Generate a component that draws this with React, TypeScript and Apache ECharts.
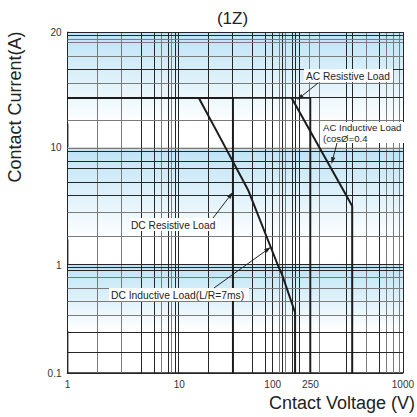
import React, { useEffect, useRef } from "react";
import * as echarts from "echarts";

// Scale of the original (hand-ruled, non-uniform) graph sheet:
// [axis value, distance from the plot origin along the axis]
const X_PAPER: [number, number][] = [
  [1, 0], [2, 29.5], [3, 54.5], [4, 75], [5, 88.5], [6, 95], [7, 100], [8, 104], [9, 108], [10, 112.5],
  [20, 141.5], [30, 166.5], [40, 186.5], [60, 200], [100, 206.5], [110, 211.5], [120, 216], [130, 220],
  [140, 224.5], [160, 229.5], [200, 234.5], [250, 244.5], [300, 254.5], [400, 279.5], [450, 286.5],
  [500, 299.5], [600, 312.5], [700, 319.5], [800, 327.5], [900, 332.5], [1000, 337.5],
];
const Y_PAPER: [number, number][] = [
  [0.1, 0], [0.2, 19], [0.3, 42], [0.4, 58], [0.5, 73], [0.6, 85], [0.7, 95], [0.8, 102], [0.9, 106], [1, 108],
  [2, 138], [3, 160], [4, 176], [5, 191], [6, 203], [7, 213], [8, 220], [9, 224], [10, 226],
  [11, 252], [12, 275], [13, 291], [14, 305], [15, 318], [16, 330], [17, 335], [18, 338], [20, 341],
];
const X_GRAY = [2, 3, 6, 8, 110, 130, 250, 300, 500, 700, 800, 900];
const Y_GRAY = [17, 16, 15, 13, 11, 10, 9, 3, 2, 0.7, 0.6, 0.5, 0.4];

// Tick labels
const xTickLabels = [1, 10, 100, 250, 1000];
const yTickLabels = [0.1, 1, 10, 20];

// Blue shaded bands [from, to] in current (A)
const bands: [number, number][] = [[20, 10.9], [10, 1.8], [1, 0.3]];

// Load curves: voltage (V) and current (A)
const dcResistiveV = [1, 30, 30];
const dcResistiveI = [12, 12, 0.1];
const acResistiveV = [1, 250, 250];
const acResistiveI = [12, 12, 0.1];
const dcInductiveV = [16, 23, 37.5, 112, 119, 158, 158];
const dcInductiveI = [12, 10.6, 4.4, 0.9, 0.76, 0.415, 0.1];
const acInductiveV = [144, 450, 450];
const acInductiveI = [12, 3.4, 0.1];

const FONT = "'Liberation Sans', Arial, Helvetica, sans-serif";
const PLOT = { left: 67.5, top: 32, width: 337.5, height: 341 };

function paper(table: [number, number][], v: number): number {
  if (v <= table[0][0]) return table[0][1];
  for (let i = 1; i < table.length; i++) {
    const [v0, p0] = table[i - 1];
    const [v1, p1] = table[i];
    if (v <= v1) return p0 + ((p1 - p0) * Math.log(v / v0)) / Math.log(v1 / v0);
  }
  return table[table.length - 1][1];
}
const toX = (v: number) => paper(X_PAPER, v) / PLOT.width;
const toY = (v: number) => paper(Y_PAPER, v) / PLOT.height;

function pts(vs: number[], is: number[]) {
  return vs.map((v, k) => [toX(v), toY(is[k])]);
}

function arrow(x1: number, y1: number, x2: number, y2: number) {
  const dx = x2 - x1, dy = y2 - y1;
  const len = Math.hypot(dx, dy);
  const ux = dx / len, uy = dy / len;
  const hl = 7, hw = 2.2;
  const bx = x2 - ux * hl, by = y2 - uy * hl;
  return [
    { type: "line", shape: { x1, y1, x2: bx, y2: by }, style: { stroke: "#222", lineWidth: 1 }, z: 20 },
    {
      type: "polygon",
      shape: { points: [[x2, y2], [bx - uy * hw, by + ux * hw], [bx + uy * hw, by - ux * hw]] },
      style: { fill: "#222" },
      z: 20,
    },
  ];
}

function label(x: number, y: number, w: number, h: number, lines: string[], size: number) {
  const els: any[] = [{ type: "rect", shape: { x, y, width: w, height: h }, style: { fill: "#fff" }, z: 19 }];
  const lh = h / lines.length;
  lines.forEach((t, k) => {
    els.push({
      type: "text",
      x: x + 2,
      y: y + lh * (k + 0.5) + 0.5,
      style: { text: t, fontSize: size, fontFamily: FONT, fill: "#222", align: "left", verticalAlign: "middle" },
      z: 21,
    });
  });
  return els;
}

export default function App() {
  const ref = useRef<HTMLDivElement>(null);
  useEffect(() => {
    if (!ref.current) return;
    const chart = echarts.init(ref.current, undefined, { renderer: "svg" });
    const curveStyle = { color: "#1c1c1c", width: 2 };
    const gridLines: any[] = [];
    X_PAPER.forEach(([v]) =>
      gridLines.push({ xAxis: toX(v), lineStyle: { color: X_GRAY.includes(v) ? "#7a7a7a" : "#262626", width: 1, type: "solid" } })
    );
    Y_PAPER.forEach(([v]) =>
      gridLines.push({ yAxis: toY(v), lineStyle: { color: Y_GRAY.includes(v) ? "#7a7a7a" : "#262626", width: 1, type: "solid" } })
    );
    const bandData = bands.map(([a, b]) => [
      {
        yAxis: toY(a),
        itemStyle: {
          color: {
            type: "linear", x: 0, y: 0, x2: 0, y2: 1,
            colorStops: [
              { offset: 0, color: "#bce3f6" },
              { offset: 1, color: "#ffffff" },
            ],
          },
        },
      },
      { yAxis: toY(b) },
    ]);
    const fmt = (labels: number[], f: (v: number) => number) => (u: number) => {
      const hit = labels.find((l) => Math.abs(f(l) - u) < 1e-6);
      return hit === undefined ? "" : String(hit);
    };
    chart.setOption({
      animation: false,
      backgroundColor: "#ffffff",
      grid: { left: PLOT.left, top: PLOT.top, width: PLOT.width, height: PLOT.height, containLabel: false },
      xAxis: {
        type: "value",
        min: 0,
        max: 1,
        splitLine: { show: false },
        axisTick: { show: false },
        axisLine: { show: true, lineStyle: { color: "#222", width: 1.5 } },
        axisLabel: {
          customValues: xTickLabels.map(toX),
          formatter: fmt(xTickLabels, toX),
          fontSize: 10,
          fontFamily: FONT,
          color: "#333",
          margin: 6,
          showMinLabel: true,
          showMaxLabel: true,
        },
      },
      yAxis: {
        type: "value",
        min: 0,
        max: 1,
        splitLine: { show: false },
        axisTick: { show: false },
        axisLine: { show: true, lineStyle: { color: "#888", width: 1.5 } },
        axisLabel: {
          customValues: yTickLabels.map(toY),
          formatter: fmt(yTickLabels, toY),
          fontSize: 10,
          fontFamily: FONT,
          color: "#333",
          margin: 6,
          showMinLabel: true,
          showMaxLabel: true,
        },
      },
      series: [
        {
          name: "bands",
          type: "line",
          data: [],
          z: 1,
          silent: true,
          markArea: { silent: true, data: bandData },
        },
        {
          name: "paper",
          type: "line",
          data: [],
          z: 2,
          silent: true,
          markLine: { silent: true, symbol: "none", label: { show: false }, animation: false, data: gridLines },
        },
        { name: "DC Resistive Load", type: "line", data: pts(dcResistiveV, dcResistiveI), showSymbol: false, symbol: "none", lineStyle: curveStyle, z: 5 },
        { name: "AC Resistive Load", type: "line", data: pts(acResistiveV, acResistiveI), showSymbol: false, symbol: "none", lineStyle: { color: "#1c1c1c", width: 1.6 }, z: 5 },
        { name: "DC Inductive Load(L/R=7ms)", type: "line", data: pts(dcInductiveV, dcInductiveI), showSymbol: false, symbol: "none", lineStyle: curveStyle, z: 5 },
        { name: "AC Inductive Load(cosØ=0.4)", type: "line", data: pts(acInductiveV, acInductiveI), showSymbol: false, symbol: "none", lineStyle: curveStyle, z: 5 },
      ],
      graphic: [
        {
          type: "text",
          x: 232.5,
          y: 18.5,
          style: { text: "(1Z)", fontSize: 17, fontFamily: FONT, fill: "#222", align: "center", verticalAlign: "middle" },
        },
        {
          type: "text",
          x: 15,
          y: 107,
          rotation: Math.PI / 2,
          style: { text: "Contact Current(A)", fontSize: 18, fontFamily: FONT, fill: "#222", align: "center", verticalAlign: "middle" },
        },
        {
          type: "text",
          x: 415,
          y: 403,
          style: { text: "Cntact Voltage (V)", fontSize: 18, fontFamily: FONT, fill: "#222", align: "right", verticalAlign: "middle" },
        },
        ...label(304, 69, 89, 13, ["AC Resistive Load"], 10.2),
        ...arrow(318, 83, 297, 100),
        ...label(321, 122, 84, 21, ["AC Inductive Load", "(cosØ=0.4"], 9.6),
        ...arrow(337, 143, 331.5, 164),
        ...label(129, 218, 88, 13, ["DC Resistive Load"], 10.2),
        ...arrow(213, 218, 233, 192),
        ...label(109, 288, 140, 13, ["DC Inductive Load(L/R=7ms)"], 10.3),
        ...arrow(214, 288, 271, 247),
      ],
    });
    return () => chart.dispose();
  }, []);
  return <div ref={ref} style={{ position: "absolute", left: 0, top: 0, width: 417, height: 417 }} />;
}
